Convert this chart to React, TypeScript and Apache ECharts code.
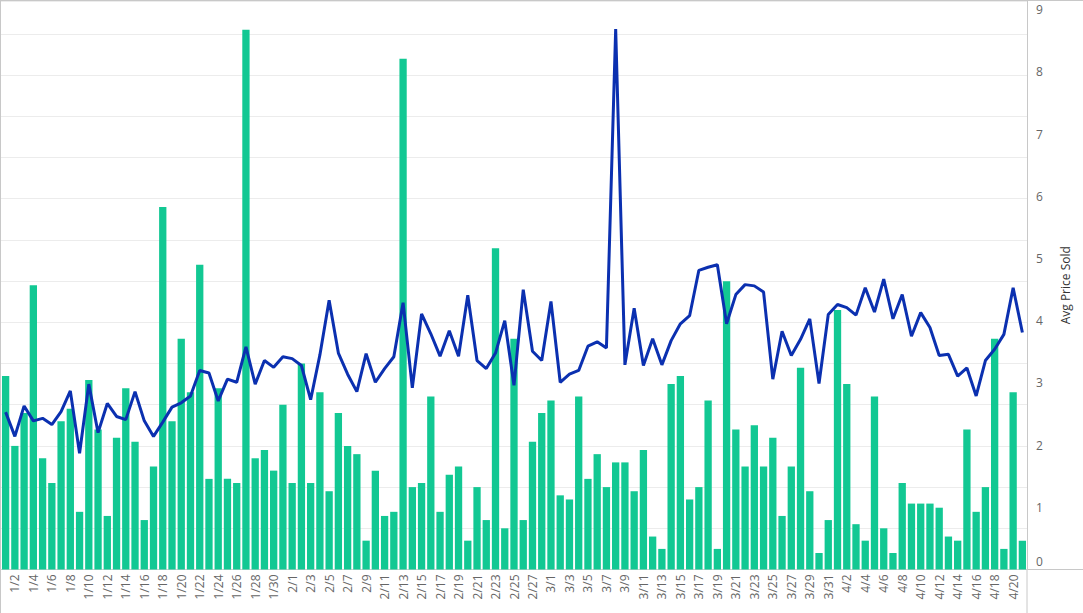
import React, { useEffect, useRef } from "react";
import * as echarts from "echarts";

const categories: string[] = [
  "1/1","1/2","1/3","1/4","1/5","1/6","1/7","1/8","1/9","1/10","1/11","1/12","1/13","1/14","1/15","1/16","1/17","1/18","1/19","1/20","1/21","1/22","1/23","1/24","1/25","1/26","1/27","1/28","1/29","1/30","1/31",
  "2/1","2/2","2/3","2/4","2/5","2/6","2/7","2/8","2/9","2/10","2/11","2/12","2/13","2/14","2/15","2/16","2/17","2/18","2/19","2/20","2/21","2/22","2/23","2/24","2/25","2/26","2/27","2/28",
  "3/1","3/2","3/3","3/4","3/5","3/6","3/7","3/8","3/9","3/10","3/11","3/12","3/13","3/14","3/15","3/16","3/17","3/18","3/19","3/20","3/21","3/22","3/23","3/24","3/25","3/26","3/27","3/28","3/29","3/30","3/31",
  "4/1","4/2","4/3","4/4","4/5","4/6","4/7","4/8","4/9","4/10","4/11","4/12","4/13","4/14","4/15","4/16","4/17","4/18","4/19","4/20","4/21",
];

// Bar measure (hidden left axis)
const countJan = [47,30,38,69,27,21,36,39,14,46,34,13,32,44,31,12,25,88,36,56,43,74,22,44,22,21,131,27,29,24,40];
const countFeb = [21,50,21,43,19,38,30,28,7,24,13,14,124,20,21,42,14,23,25,7,20,12,78,10,56,12,31,38];
const countMar = [41,18,17,42,22,28,20,26,26,19,29,8,5,45,47,17,20,41,5,70,34,25,35,25,32,13,25,49,19,4,12];
const countApr = [63,45,11,7,42,10,4,21,16,16,16,15,8,7,34,14,20,56,5,43,7];

// Avg Price Sold (right axis)
const priceJan = [2.53,2.14,2.63,2.39,2.43,2.33,2.54,2.87,1.87,2.98,2.2,2.67,2.46,2.41,2.86,2.39,2.14,2.37,2.61,2.68,2.79,3.2,3.16,2.71,3.06,3.01,3.58,2.98,3.36,3.25,3.42];
const priceFeb = [3.39,3.28,2.73,3.45,4.33,3.48,3.14,2.86,3.47,3.01,3.23,3.42,4.29,2.92,4.11,3.79,3.43,3.84,3.43,4.41,3.36,3.23,3.48,4.0,2.96,4.5,3.51,3.36];
const priceMar = [4.31,3.01,3.14,3.2,3.59,3.66,3.56,8.69,3.29,4.2,3.28,3.71,3.29,3.68,3.95,4.08,4.81,4.86,4.9,3.95,4.42,4.58,4.56,4.46,3.06,3.83,3.44,3.7,4.03,2.99,4.1];
const priceApr = [4.26,4.21,4.09,4.53,4.14,4.67,4.03,4.42,3.75,4.13,3.89,3.44,3.46,3.11,3.24,2.79,3.36,3.54,3.78,4.53,3.81];

const priceTicks = [0, 1, 2, 3, 4, 5, 6, 7, 8, 9];

const counts = [...countJan, ...countFeb, ...countMar, ...countApr];
const prices = [...priceJan, ...priceFeb, ...priceMar, ...priceApr];

export default function App() {
  const ref = useRef<HTMLDivElement>(null);
  useEffect(() => {
    if (!ref.current) return;
    const chart = echarts.init(ref.current, null, { renderer: "svg" });
    const font = "'Open Sans', 'Noto Sans', sans-serif";
    chart.setOption({
      animation: false,
      backgroundColor: "#ffffff",
      grid: { left: 1, top: 1, right: 56, bottom: 43.5, containLabel: false },
      xAxis: {
        type: "category",
        data: categories,
        boundaryGap: true,
        axisLine: { show: true, lineStyle: { color: "#d0d0d0", width: 1 } },
        axisTick: { show: false },
        axisLabel: {
          interval: (i: number) => i % 2 === 1,
          rotate: 90,
          color: "#666666",
          fontSize: 12,
          fontFamily: font,
          margin: 5,
        },
        splitLine: { show: false },
      },
      yAxis: [
        {
          type: "value",
          position: "left",
          min: 0,
          max: 138,
          interval: 10,
          axisLine: { show: false },
          axisTick: { show: false },
          axisLabel: { show: false },
          splitLine: { show: true, lineStyle: { color: "#ececec", width: 1 } },
        },
        {
          type: "value",
          position: "right",
          min: 0,
          max: 9.14,
          interval: 1,
          name: "Avg Price Sold",
          nameLocation: "middle",
          nameGap: 32,
          nameRotate: 90,
          nameTextStyle: { color: "#333333", fontSize: 12, fontFamily: font },
          axisLine: { show: true, lineStyle: { color: "#c8c8c8", width: 1 } },
          axisTick: { show: false },
          axisLabel: {
            color: "#666666",
            fontSize: 12,
            fontFamily: font,
            margin: 9,
            formatter: (v: number) =>
              v === 0 ? "{z|0}" : priceTicks.includes(v) ? String(v) : "",
            rich: {
              z: { color: "#666666", fontSize: 12, fontFamily: font, padding: [0, 0, 16, 0] },
            },
          },
          splitLine: { show: false },
        },
      ],
      series: [
        {
          type: "bar",
          yAxisIndex: 0,
          data: counts,
          barCategoryGap: "21%",
          itemStyle: { color: "#12c893" },
        },
        {
          type: "line",
          yAxisIndex: 1,
          data: prices,
          symbol: "none",
          lineStyle: { color: "#0b30b0", width: 3 },
          z: 5,
        },
      ],
      graphic: [
        { type: "line", shape: { x1: 0, y1: 0.5, x2: 1083, y2: 0.5 }, style: { stroke: "#c8c8c8", lineWidth: 1 } },
        { type: "line", shape: { x1: 0.5, y1: 0, x2: 0.5, y2: 613 }, style: { stroke: "#c8c8c8", lineWidth: 1 } },
        { type: "line", shape: { x1: 1027, y1: 569.5, x2: 1027, y2: 613 }, style: { stroke: "#c8c8c8", lineWidth: 1 } },
        { type: "line", shape: { x1: 1027, y1: 569.5, x2: 1083, y2: 569.5 }, style: { stroke: "#c8c8c8", lineWidth: 1 } },
      ],
    });
    return () => chart.dispose();
  }, []);
  return (
    <div
      ref={ref}
      style={{ position: "fixed", left: 0, top: 0, width: 1083, height: 613, background: "#fff" }}
    />
  );
}
